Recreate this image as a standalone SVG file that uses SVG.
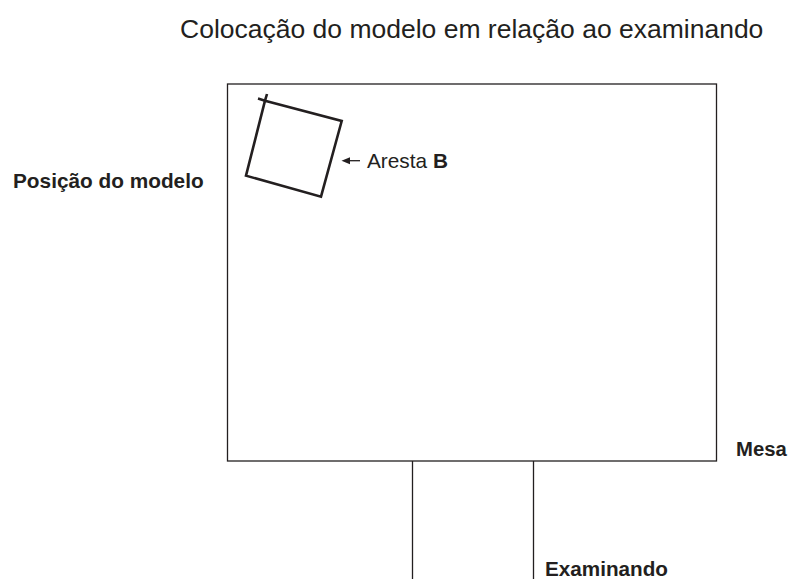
<svg xmlns="http://www.w3.org/2000/svg" width="788" height="579" viewBox="0 0 788 579">
<style>
.t{font-family:"Liberation Sans",Arial,sans-serif;fill:#231f20}
.b{font-weight:bold}
.thin{fill:none;stroke:#231f20;stroke-width:1.3}
.thick{fill:none;stroke:#231f20;stroke-width:2.6;stroke-linejoin:miter}
</style>
<rect width="788" height="579" fill="#fff"/>
<text class="t" x="180" y="38" font-size="26.5">Colocação do modelo em relação ao examinando</text>
<g id="mesa">
<rect class="thin" x="227.5" y="84" width="489" height="377"/>
<text class="t b" x="736" y="456" font-size="20.3">Mesa</text>
</g>
<g id="examinando">
<path class="thin" d="M412.5,461 V579 M533.5,461 V579"/>
<text class="t b" x="545" y="576" font-size="20.7">Examinando</text>
</g>
<g id="modelo">
<polygon class="thick" points="265,100.7 341.7,121 321,196.7 246,175.7"/>
<path class="thick" d="M258,98.6 L265,100.7 M265,100.7 L267,94"/>
<text class="t b" x="13" y="188" font-size="20.8">Posição do modelo</text>
</g>
<g id="connectors">
<line class="thin" x1="360" y1="160.7" x2="348" y2="160.7"/>
<polygon points="341.5,160.7 350,157.2 350,164.2" fill="#231f20"/>
</g>
<text class="t" x="367" y="168" font-size="20.8">Aresta <tspan class="b">B</tspan></text>
</svg>
